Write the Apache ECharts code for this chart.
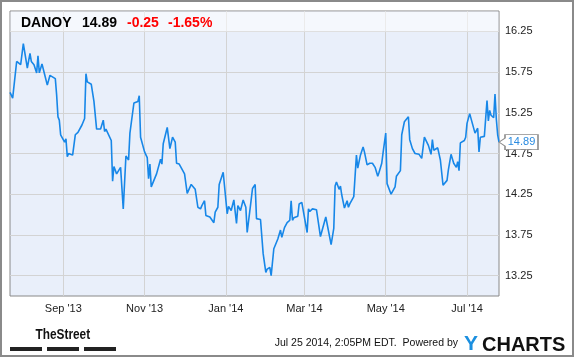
<!DOCTYPE html>
<html><head><meta charset="utf-8">
<script src="https://cdn.jsdelivr.net/npm/echarts@6/dist/echarts.min.js"></script>
<style>html,body{margin:0;padding:0;background:#fff}#c{width:575px;height:358px}</style>
</head><body><div id="c"></div>
<script>
// ---- data ----
const dates = ['2013-07-23','2013-07-25','2013-07-26','2013-07-28','2013-07-31','2013-08-02','2013-08-05','2013-08-07','2013-08-08','2013-08-10',
'2013-08-12','2013-08-13','2013-08-14','2013-08-16','2013-08-18','2013-08-19','2013-08-20','2013-08-22','2013-08-26','2013-08-27',
'2013-08-28','2013-08-29','2013-08-30','2013-09-02','2013-09-03','2013-09-04','2013-09-05','2013-09-08','2013-09-10','2013-09-12',
'2013-09-13','2013-09-15','2013-09-17','2013-09-18','2013-09-19','2013-09-22','2013-09-24','2013-09-26','2013-09-29','2013-10-01',
'2013-10-02','2013-10-03','2013-10-07','2013-10-08','2013-10-09','2013-10-11','2013-10-14','2013-10-16','2013-10-18','2013-10-20',
'2013-10-21','2013-10-24','2013-10-27','2013-10-28','2013-10-29','2013-11-01','2013-11-03','2013-11-04','2013-11-05','2013-11-06',
'2013-11-08','2013-11-10','2013-11-11','2013-11-13','2013-11-14','2013-11-15','2013-11-18','2013-11-20','2013-11-22','2013-11-24',
'2013-11-25','2013-11-27','2013-11-28','2013-12-01','2013-12-03','2013-12-06','2013-12-09','2013-12-11','2013-12-13','2013-12-14',
'2013-12-16','2013-12-17','2013-12-20','2013-12-23','2013-12-24','2013-12-26','2013-12-27','2013-12-30','2013-12-31','2014-01-02',
'2014-01-03','2014-01-05','2014-01-07','2014-01-09','2014-01-10','2014-01-12','2014-01-14','2014-01-16','2014-01-17','2014-01-20',
'2014-01-21','2014-01-23','2014-01-24','2014-01-27','2014-01-29','2014-01-31','2014-02-01','2014-02-03','2014-02-04','2014-02-05',
'2014-02-06','2014-02-07','2014-02-09','2014-02-11','2014-02-12','2014-02-14','2014-02-16','2014-02-18','2014-02-19','2014-02-20',
'2014-02-21','2014-02-24','2014-02-25','2014-02-27','2014-02-28','2014-03-03','2014-03-04','2014-03-05','2014-03-07','2014-03-10',
'2014-03-13','2014-03-17','2014-03-21','2014-03-23','2014-03-24','2014-03-25','2014-03-27','2014-03-28','2014-03-29','2014-03-31',
'2014-04-02','2014-04-03','2014-04-04','2014-04-07','2014-04-09','2014-04-10','2014-04-12','2014-04-14','2014-04-15','2014-04-17',
'2014-04-19','2014-04-21','2014-04-23','2014-04-25','2014-04-26','2014-04-28','2014-04-29','2014-05-01','2014-05-02','2014-05-05',
'2014-05-08','2014-05-09','2014-05-12','2014-05-13','2014-05-15','2014-05-18','2014-05-19','2014-05-21','2014-05-23','2014-05-26',
'2014-05-28','2014-05-30','2014-06-02','2014-06-04','2014-06-05','2014-06-06','2014-06-09','2014-06-11','2014-06-13','2014-06-16',
'2014-06-17','2014-06-19','2014-06-21','2014-06-23','2014-06-24','2014-06-25','2014-06-26','2014-06-29','2014-06-30','2014-07-01',
'2014-07-02','2014-07-03','2014-07-05','2014-07-07','2014-07-09','2014-07-10','2014-07-11','2014-07-14','2014-07-16','2014-07-17',
'2014-07-18','2014-07-19','2014-07-21','2014-07-22','2014-07-23','2014-07-24','2014-07-25'];
const prices = [15.50,15.43,15.45,15.88,15.84,16.10,15.80,15.98,15.88,15.84,
15.74,15.95,15.74,15.85,15.72,15.71,15.59,15.71,15.67,15.47,
15.20,15.16,14.98,14.89,14.93,14.71,14.75,14.73,14.98,15.01,
15.00,15.10,15.18,15.73,15.63,15.60,15.39,15.05,15.05,15.16,
15.02,15.05,14.91,14.41,14.59,14.50,14.58,14.07,14.72,14.67,
15.00,15.37,15.39,15.46,14.95,14.77,14.70,14.44,14.62,14.34,
14.42,14.50,14.48,14.68,14.62,14.87,15.07,14.81,14.95,14.89,
14.63,14.62,14.63,14.50,14.26,14.37,14.31,14.09,14.07,14.11,
14.17,13.99,13.97,13.90,14.03,14.09,14.37,14.52,14.50,14.01,
14.10,14.05,14.18,13.89,14.11,14.05,14.18,14.09,13.78,14.18,
14.32,14.37,13.95,13.94,13.52,13.29,13.33,13.35,13.25,13.27,
13.58,13.60,13.70,13.81,13.72,13.84,13.90,13.93,14.17,13.93,
13.96,13.98,14.13,14.15,14.16,13.78,14.07,14.04,14.07,14.06,
13.73,13.97,13.63,13.83,14.35,14.40,14.31,14.35,14.24,14.08,
14.17,14.09,14.13,14.22,14.73,14.57,14.73,14.83,14.77,14.61,
14.63,14.63,14.58,14.47,14.52,14.63,14.76,15.00,14.38,14.25,
14.34,14.47,14.54,14.98,15.14,15.20,14.92,14.81,14.75,14.74,
14.69,14.95,14.85,14.74,14.92,14.79,14.82,14.67,14.36,14.42,
14.55,14.74,14.63,14.58,14.65,14.54,14.88,14.91,14.95,15.12,
15.10,15.24,15.12,15.00,15.06,14.77,14.95,14.96,15.40,15.15,
15.28,15.22,15.19,15.48,15.17,14.98,14.89];
const xStart = '2013-07-23', xEnd = '2014-07-25';
const xTickDates = ['2013-09-01','2013-11-01','2014-01-01','2014-03-01','2014-05-01','2014-07-01'];
const xTickLabels = ["Sep '13","Nov '13","Jan '14","Mar '14","May '14","Jul '14"];
const yTicks = [13.25,13.75,14.25,14.75,15.25,15.75,16.25];
const yMin = 13.0, yMax = 16.5;
const ticker = 'DANOY', lastPrice = '14.89', change = '-0.25', changePct = '-1.65%';
const stamp = 'Jul 25 2014, 2:05PM EDT.  Powered by';

// ---- chart ----
const ts = s => { const p = s.split('-').map(Number); return Date.UTC(p[0], p[1] - 1, p[2]); };
const chart = echarts.init(document.getElementById('c'), null, {renderer:'canvas'});
const tickTimes = xTickDates.map(ts);
const FONT = "'Liberation Sans', Arial, sans-serif";
const lastIdx = dates.length - 1;

chart.setOption({
  animation: false,
  grid: {left: 10, right: 76, top: 11, bottom: 62, show: true,
         backgroundColor: '#e9effa', borderColor: '#888', borderWidth: 1},
  xAxis: {
    type: 'value', min: ts(xStart), max: ts(xEnd),
    axisLine: {show: false},
    axisTick: {show: false, customValues: tickTimes},
    splitLine: {show: true, lineStyle: {color: '#d3d3d3', width: 1}},
    axisLabel: {customValues: tickTimes, margin: 7, color: '#222', fontSize: 11, fontFamily: FONT,
      formatter: v => { let best = 0;
        tickTimes.forEach((tt, i) => { if (Math.abs(tt - v) < Math.abs(tickTimes[best] - v)) best = i; });
        return xTickLabels[best]; }}
  },
  yAxis: {
    type: 'value', position: 'right', min: yMin, max: yMax,
    axisLine: {show: false},
    axisTick: {show: false, customValues: yTicks},
    splitLine: {show: true, lineStyle: {color: '#d3d3d3', width: 1}},
    axisLabel: {customValues: yTicks, margin: 6, color: '#222', fontSize: 11, fontFamily: FONT,
      formatter: v => Number(v).toFixed(2)}
  },
  series: [{
    type: 'line', showSymbol: false, z: 3,
    data: dates.map((d, i) => [ts(d), prices[i]]),
    lineStyle: {color: '#1787e8', width: 1.6},
    markPoint: {
      symbol: 'path://M0,7.5 L6,3.5 L6,0 L39,0 L39,15 L6,15 L6,11.5 Z',
      symbolSize: [39, 15], symbolKeepAspect: false, symbolOffset: ['50%', 0],
      itemStyle: {color: '#fff', borderColor: '#8c8c8c', borderWidth: 1},
      label: {show: true, color: '#2a8be0', fontSize: 11, fontFamily: FONT, offset: [3, 0],
              formatter: p => Number(p.value).toFixed(2)},
      data: [{coord: [ts(dates[lastIdx]), prices[lastIdx]], value: prices[lastIdx]}]
    }
  }],
  graphic: [
    {type: 'rect', z: 1, silent: true, shape: {x: 10.5, y: 11.5, width: 488, height: 20},
     style: {fill: 'rgba(255,255,255,0.55)'}},
    {type: 'text', z: 10, left: 21, top: 16, style: {text: ticker, font: "bold 14px " + FONT, fill: '#000'}},
    {type: 'text', z: 10, left: 82, top: 16, style: {text: lastPrice, font: "bold 14px " + FONT, fill: '#000'}},
    {type: 'text', z: 10, left: 127, top: 16, style: {text: change, font: "bold 14px " + FONT, fill: '#f00'}},
    {type: 'text', z: 10, left: 168, top: 16, style: {text: changePct, font: "bold 14px " + FONT, fill: '#f00'}},
    {type: 'text', z: 10, x: 35.5, y: 327, scaleX: 0.79,
     style: {text: 'TheStreet', x: 0, y: 0, verticalAlign: 'top', font: "bold 15px " + FONT, fill: '#111'}},
    {type: 'rect', z: 10, shape: {x: 10, y: 347, width: 32, height: 4}, style: {fill: '#222'}},
    {type: 'rect', z: 10, shape: {x: 47, y: 347, width: 32, height: 4}, style: {fill: '#222'}},
    {type: 'rect', z: 10, shape: {x: 84, y: 347, width: 32, height: 4}, style: {fill: '#222'}},
    {type: 'text', z: 10, right: 117, top: 338, style: {text: stamp, font: "10.5px " + FONT, fill: '#111'}},
    {type: 'text', z: 10, left: 464, top: 334, style: {text: 'Y', font: "bold 21px " + FONT, fill: '#1b8fdf'}},
    {type: 'text', z: 10, left: 482, top: 335, style: {text: 'CHARTS', font: "bold 20px " + FONT, fill: '#111'}},
    {type: 'rect', z: 20, silent: true, shape: {x: 1, y: 1, width: 572, height: 355},
     style: {fill: 'none', stroke: '#8a8a8a', lineWidth: 2}}
  ]
});
</script></body></html>
